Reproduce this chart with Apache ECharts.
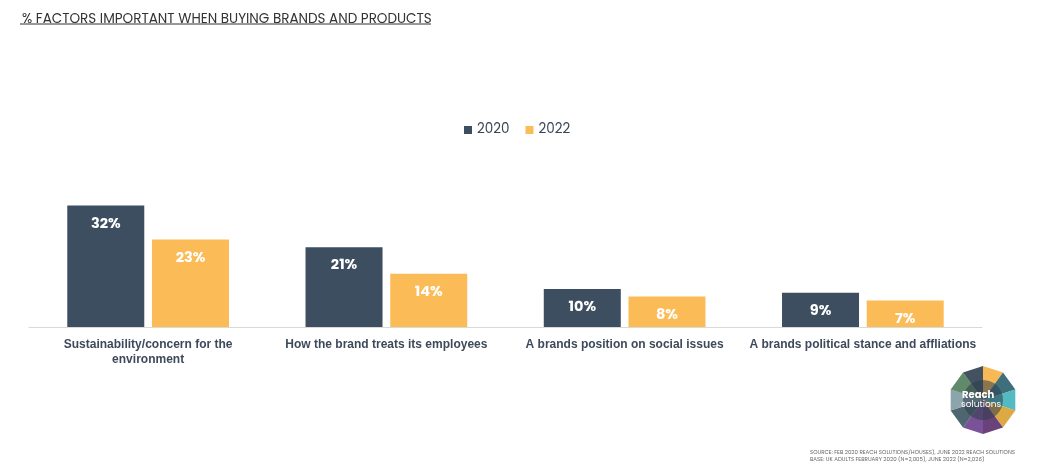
<!DOCTYPE html>
<html>
<head>
<meta charset="utf-8">
<script src="https://cdn.jsdelivr.net/npm/echarts@6/dist/echarts.min.js"></script>
<style>
  html, body { margin: 0; padding: 0; background: #fff; }
  #chart { width: 1049px; height: 473px; }
</style>
</head>
<body>
<div id="chart"></div>
<script>
const categories = [
  'Sustainability/concern for the\nenvironment',
  'How the brand treats its employees',
  'A brands position on social issues',
  'A brands political stance and affliations'
]
const values2020 = [32, 21, 10, 9]
const values2022 = [23, 14, 8, 7]
const seriesNames = ['2020', '2022']

const chart = echarts.init(document.getElementById('chart'))

const labelStyle = {
  show: true,
  position: 'insideTop',
  distance: 11,
  color: '#fff',
  fontFamily: 'Poppins, Inter, sans-serif',
  fontWeight: 'bold',
  fontSize: 14.5,
  formatter: '{c}%'
}

// logo: ring of coloured facets around a dark centre
const cx = 983, cy = 400, r = 34
const logoColors = ['#f6b144', '#2a5f6e', '#3fb3b9', '#d8a030', '#5a2d6b', '#6b3f8c', '#3a5560', '#7f9aa2', '#4f7d5a', '#2e3f4f']
const logoPieces = logoColors.map(function (c, i) {
  const a0 = (i / logoColors.length) * Math.PI * 2 - Math.PI / 2
  const a1 = ((i + 1) / logoColors.length) * Math.PI * 2 - Math.PI / 2
  return {
    type: 'polygon',
    shape: { points: [[cx, cy], [cx + r * Math.cos(a0), cy + r * Math.sin(a0)], [cx + r * Math.cos(a1), cy + r * Math.sin(a1)]] },
    style: { fill: c, opacity: 0.9 }
  }
})
logoPieces.push({
  type: 'circle',
  shape: { cx: cx, cy: cy, r: 20 },
  style: { fill: '#2f3e4c', opacity: 0.55 }
})

const option = {
  animation: false,
  title: {
    text: '% FACTORS IMPORTANT WHEN BUYING BRANDS AND PRODUCTS',
    left: 17,
    top: 8,
    textStyle: {
      color: '#333',
      fontFamily: 'Poppins, Inter, sans-serif',
      fontWeight: 'normal',
      fontSize: 13.5
    }
  },
  legend: {
    data: seriesNames,
    left: 459,
    top: 118,
    icon: 'rect',
    itemWidth: 8,
    itemHeight: 8,
    itemGap: 16,
    textStyle: {
      color: '#3a4656',
      fontFamily: 'Poppins, Inter, sans-serif',
      fontSize: 13.5
    }
  },
  grid: {
    left: 29,
    right: 67,
    top: 175,
    bottom: 146,
    containLabel: false
  },
  xAxis: {
    type: 'category',
    data: categories,
    axisLine: { lineStyle: { color: '#d9d9d9' } },
    axisTick: { show: false },
    axisLabel: {
      interval: 0,
      margin: 10,
      color: '#3d4a5a',
      fontFamily: 'Liberation Sans, Arial, sans-serif',
      fontWeight: 'bold',
      fontSize: 12,
      lineHeight: 15
    }
  },
  yAxis: {
    type: 'value',
    min: 0,
    max: 40,
    show: false,
    splitLine: { show: false }
  },
  series: [
    {
      name: seriesNames[0],
      type: 'bar',
      data: values2020,
      barWidth: 77,
      barGap: '10%',
      itemStyle: { color: '#3c4e5f' },
      label: labelStyle
    },
    {
      name: seriesNames[1],
      type: 'bar',
      data: values2022,
      barWidth: 77,
      itemStyle: { color: '#fbbc58' },
      label: labelStyle
    }
  ],
  graphic: [
    {
      type: 'line',
      shape: { x1: 20, y1: 24, x2: 431, y2: 24 },
      style: { stroke: '#333', lineWidth: 1 }
    },
    {
      type: 'group',
      children: logoPieces.concat([
        {
          type: 'text',
          style: {
            x: cx - 21, y: cy - 10,
            text: 'Reach',
            fill: '#fff',
            font: 'bold 10px Poppins, Inter, sans-serif'
          }
        },
        {
          type: 'text',
          style: {
            x: cx - 22, y: cy + 0,
            text: 'solutions',
            fill: '#fff',
            font: '9px Poppins, Inter, sans-serif'
          }
        }
      ])
    },
    {
      type: 'text',
      right: 34,
      top: 449,
      style: {
        text: 'SOURCE: FEB 2020 REACH SOLUTIONS/HOUSES), JUNE 2022 REACH SOLUTIONS\nBASE: UK ADULTS FEBRUARY 2020 (N=2,005), JUNE 2022 (N=2,026)',
        align: 'right',
        fill: '#666',
        font: '5.5px Poppins, Inter, sans-serif',
        lineHeight: 7
      }
    }
  ]
}

chart.setOption(option)
</script>
</body>
</html>
